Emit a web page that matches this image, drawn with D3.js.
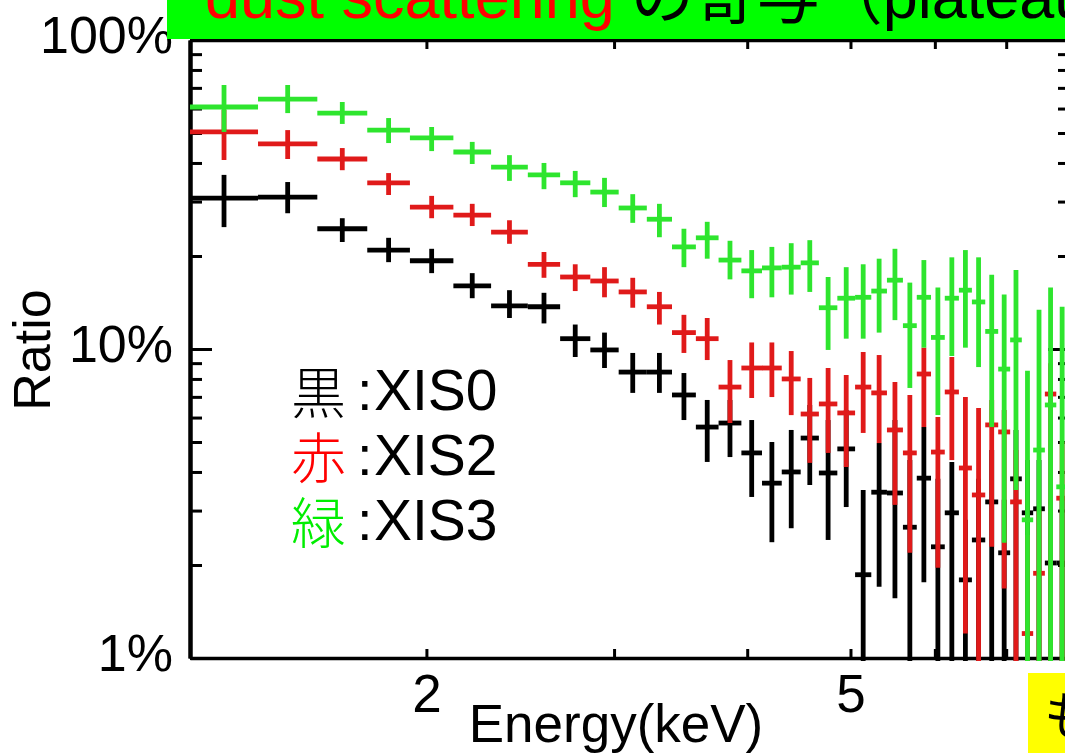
<!DOCTYPE html>
<html>
<head>
<meta charset="utf-8">
<script src="https://cdn.jsdelivr.net/npm/d3@7"></script>
<style>
  body { margin: 0; background: #fff; }
  svg { display: block; font-family: "Liberation Sans", Arial, "Noto Sans CJK JP", sans-serif; }
</style>
</head>
<body>
<svg id="chart" width="1065" height="753"></svg>
<script>
// energy bin edges (keV) - shared by the three detectors
const binEdges = [1.2, 1.39, 1.58, 1.76, 1.93, 2.12, 2.30, 2.49, 2.67, 2.85, 3.03, 3.22, 3.40, 3.58, 3.76,
    3.95, 4.13, 4.31, 4.49, 4.67, 4.86, 5.05, 5.23, 5.41, 5.60, 5.77, 5.95, 6.13, 6.32, 6.50, 6.69, 6.88,
    7.06, 7.24, 7.42, 7.61, 7.80, 8.0]

// ratio (%) : value, upper error, lower error
const xis0Val = [30.8, 31.0, 24.5, 20.9, 19.3, 16.0, 13.8, 13.7, 10.8, 9.93, 8.42, 8.42, 7.10, 5.59, 5.76, 4.61, 3.68, 4.00, 5.15, 3.97, 4.75, 1.86, 3.44, 3.42, 2.65, 3.82, 2.29, 2.95, 1.79, 2.41, 3.20, 2.19, 3.80, 2.95, 3.04, 2.03, 2.03]
const xis0Hi = [36.6, 34.7, 26.5, 22.9, 21.1, 17.6, 15.5, 15.2, 12.0, 11.3, 9.71, 9.71, 8.36, 6.84, 6.84, 5.89, 5.00, 5.47, 6.59, 5.89, 6.35, 3.50, 4.96, 5.89, 4.37, 5.59, 3.80, 4.31, 2.80, 3.80, 4.71, 3.25, 5.47, 4.37, 4.37, 3.25, 3.25]
const xis0Lo = [24.8, 27.5, 22.2, 19.1, 17.6, 14.6, 12.6, 12.1, 9.42, 8.68, 7.21, 7.21, 5.89, 4.31, 4.47, 3.32, 2.37, 2.63, 3.63, 2.41, 3.08, 0.5, 1.70, 1.56, 0.5, 1.76, 0.5, 0.5, 0.5, 0.5, 0.5, 0.5, 0.5, 0.5, 0.5, 0.5, 0.5]

const xis2Val = [50.4, 46.1, 41.2, 34.5, 28.8, 27.1, 23.9, 18.8, 17.1, 16.6, 15.3, 13.7, 11.3, 10.8, 7.53, 8.68, 8.68, 8.00, 6.16, 6.64, 6.21, 7.53, 7.21, 5.47, 4.61, 8.30, 4.64, 7.26, 4.12, 3.37, 5.68, 5.39, 3.20, 1.20, 1.88, 7.15, 3.29]
const xis2Hi = [59.4, 51.1, 44.7, 37.1, 31.3, 29.5, 26.1, 20.6, 18.8, 18.4, 17.0, 15.3, 12.9, 12.6, 9.21, 10.5, 10.5, 9.85, 8.06, 8.68, 8.24, 9.78, 9.56, 7.82, 7.10, 10.1, 6.02, 9.42, 6.99, 6.44, 6.84, 6.35, 4.71, 2.5, 3.0, 9.0, 5.0]
const xis2Lo = [40.9, 41.2, 37.9, 31.5, 26.5, 25.0, 21.9, 17.0, 15.4, 14.7, 13.6, 12.0, 9.71, 9.21, 5.76, 6.94, 6.99, 6.11, 4.28, 4.61, 4.15, 5.35, 4.96, 3.13, 2.19, 5.59, 1.96, 4.37, 1.20, 0.5, 2.29, 1.68, 0.5, 0.5, 0.5, 0.5, 0.5]

const xis3Val = [60.7, 64.4, 58.0, 51.1, 48.2, 43.4, 38.8, 36.6, 34.5, 32.2, 28.6, 26.3, 21.4, 22.9, 19.4, 17.9, 18.3, 18.4, 19.0, 13.6, 14.6, 14.7, 15.4, 16.7, 11.9, 14.7, 10.9, 14.6, 15.5, 14.2, 11.4, 8.61, 10.7, 2.80, 4.71, 6.59, 3.58]
const xis3Hi = [71.5, 71.5, 63.0, 55.9, 52.3, 46.8, 42.4, 40.0, 37.7, 35.8, 31.7, 29.5, 24.5, 25.8, 22.4, 20.9, 21.4, 22.0, 22.5, 17.1, 18.4, 18.8, 19.6, 21.1, 16.4, 19.4, 15.8, 19.8, 20.9, 19.8, 17.4, 15.0, 18.0, 8.5, 13.4, 15.8, 13.7]
const xis3Lo = [50.4, 58.0, 53.5, 46.4, 43.7, 39.7, 35.0, 32.9, 31.0, 28.8, 25.6, 23.0, 18.4, 19.6, 16.8, 14.6, 14.7, 15.0, 15.3, 9.93, 10.8, 10.8, 11.3, 12.4, 7.48, 10.1, 6.11, 9.49, 10.1, 8.74, 5.59, 2.36, 3.50, 0.5, 0.5, 0.5, 0.5]

// axis ticks
const xTicks = [2, 3, 4, 5, 6, 7]
const xLabels = [2, 5]
const yMajor = [1, 10, 100]
const yMinor = [2, 3, 4, 5, 6, 7, 8, 9, 20, 30, 40, 50, 60, 70, 80, 90]

const series = [
    { name: 'XIS0', kanji: '黒', color: '#000000', text: '#000000', val: xis0Val, hi: xis0Hi, lo: xis0Lo },
    { name: 'XIS2', kanji: '赤', color: '#e01a1a', text: '#ff0000', val: xis2Val, hi: xis2Hi, lo: xis2Lo },
    { name: 'XIS3', kanji: '緑', color: '#2ee52e', text: '#00ee00', val: xis3Val, hi: xis3Hi, lo: xis3Lo }
]

const svg = d3.select('#chart')
const plot = { left: 190, right: 1068, top: 40, bottom: 658 }

const x = d3.scaleLog().domain([1.2, 8]).range([plot.left, plot.right])
const y = d3.scaleLog().domain([1, 100]).range([plot.bottom, plot.top])

// axes
function styleAxis(g, width) {
    g.select('.domain').attr('stroke', '#000').attr('stroke-width', width)
    g.selectAll('.tick line').attr('stroke', '#000').attr('stroke-width', 3)
}

svg.append('g').attr('transform', `translate(0,${plot.bottom})`)
    .call(d3.axisBottom(x).tickValues(xTicks).tickSizeInner(-9).tickSizeOuter(0).tickPadding(16)
        .tickFormat(d => xLabels.includes(d) ? d : ''))
    .call(g => styleAxis(g, 3.5))
    .call(g => g.selectAll('text').attr('font-size', 53).attr('fill', '#000')
        .attr('font-family', '"Liberation Sans", Arial, sans-serif'))

svg.append('g').attr('transform', `translate(0,${plot.top})`)
    .call(d3.axisTop(x).tickValues(xTicks).tickSizeInner(-9).tickSizeOuter(0).tickFormat(''))
    .call(g => styleAxis(g, 3.5))

svg.append('g').attr('transform', `translate(${plot.left},0)`)
    .call(d3.axisLeft(y).tickValues(yMinor).tickSizeInner(-12).tickSizeOuter(0).tickFormat(''))
    .call(g => styleAxis(g, 4))
svg.append('g').attr('transform', `translate(${plot.left},0)`)
    .call(d3.axisLeft(y).tickValues(yMajor).tickSizeInner(-22).tickSizeOuter(0).tickPadding(17)
        .tickFormat(d => d + '%'))
    .call(g => styleAxis(g, 4))
    .call(g => g.selectAll('text').attr('font-size', 52).attr('dy', '0.24em').attr('fill', '#000')
        .attr('font-family', '"Liberation Sans", Arial, sans-serif'))

svg.append('g').attr('transform', `translate(${plot.right},0)`)
    .call(d3.axisRight(y).tickValues(yMinor).tickSizeInner(-10).tickSizeOuter(0).tickFormat(''))
    .call(g => styleAxis(g, 4))
svg.append('g').attr('transform', `translate(${plot.right},0)`)
    .call(d3.axisRight(y).tickValues(yMajor).tickSizeInner(-20).tickSizeOuter(0).tickFormat(''))
    .call(g => styleAxis(g, 4))

// data crosses
svg.append('clipPath').attr('id', 'clip').append('rect')
    .attr('x', plot.left).attr('y', plot.top)
    .attr('width', plot.right - plot.left).attr('height', plot.bottom - plot.top + 3)

const bins = d3.range(binEdges.length - 1).map(i => ({ lo: binEdges[i], hi: binEdges[i + 1] }))

const dataG = svg.append('g').attr('clip-path', 'url(#clip)')
series.forEach(s => {
    const pts = bins.map((b, i) => ({ e0: b.lo, e1: b.hi, ec: Math.sqrt(b.lo * b.hi), v: s.val[i], hi: s.hi[i], lo: s.lo[i] }))
    const g = dataG.append('g').attr('class', 'series ' + s.name)
        .attr('stroke', s.color).attr('stroke-width', 4.8)
    g.selectAll('.ev').data(pts).join('line').attr('class', 'ev')
        .attr('x1', d => x(d.ec)).attr('x2', d => x(d.ec))
        .attr('y1', d => y(d.hi)).attr('y2', d => y(d.lo))
    g.selectAll('.eh').data(pts).join('line').attr('class', 'eh')
        .attr('x1', d => x(d.e0)).attr('x2', d => x(d.e1))
        .attr('y1', d => y(d.v)).attr('y2', d => y(d.v))
})

// axis titles
svg.append('text').attr('x', 616).attr('y', 742).attr('text-anchor', 'middle')
    .attr('font-size', 53).text('Energy(keV)')
svg.append('text').attr('transform', 'translate(50,350) rotate(-90)').attr('text-anchor', 'middle')
    .attr('font-size', 52).text('Ratio')

// legend
const legend = svg.append('g')
series.forEach((s, i) => {
    const by = 410 + i * 65
    legend.append('text').attr('x', 291).attr('y', by + 3).attr('font-size', 55)
        .attr('font-family', '"Noto Sans CJK JP", sans-serif').attr('font-weight', 300)
        .attr('fill', s.text).text(s.kanji)
    legend.append('text').attr('x', 357).attr('y', by).attr('font-size', 56).text(':')
    legend.append('text').attr('x', 374).attr('y', by).attr('font-size', 57).text(s.name)
})

// title banner (cropped at the top of the slide)
svg.append('rect').attr('x', 167).attr('y', 0).attr('width', 1065 - 167).attr('height', 39).attr('fill', '#00ff00')
const title = svg.append('text').attr('x', 205).attr('y', 18).attr('font-size', 63)
title.append('tspan').attr('fill', '#ff0000').text('dust scattering')
title.append('tspan').attr('fill', '#000').attr('dx', 16).text('の寄与（plateau')

// yellow note box at the bottom right
svg.append('rect').attr('x', 1028).attr('y', 673).attr('width', 40).attr('height', 80).attr('fill', '#ffff00')
svg.append('text').attr('x', 1044).attr('y', 735).attr('font-size', 52)
    .attr('font-family', '"Noto Sans CJK JP", sans-serif').text('も')
</script>
</body>
</html>
